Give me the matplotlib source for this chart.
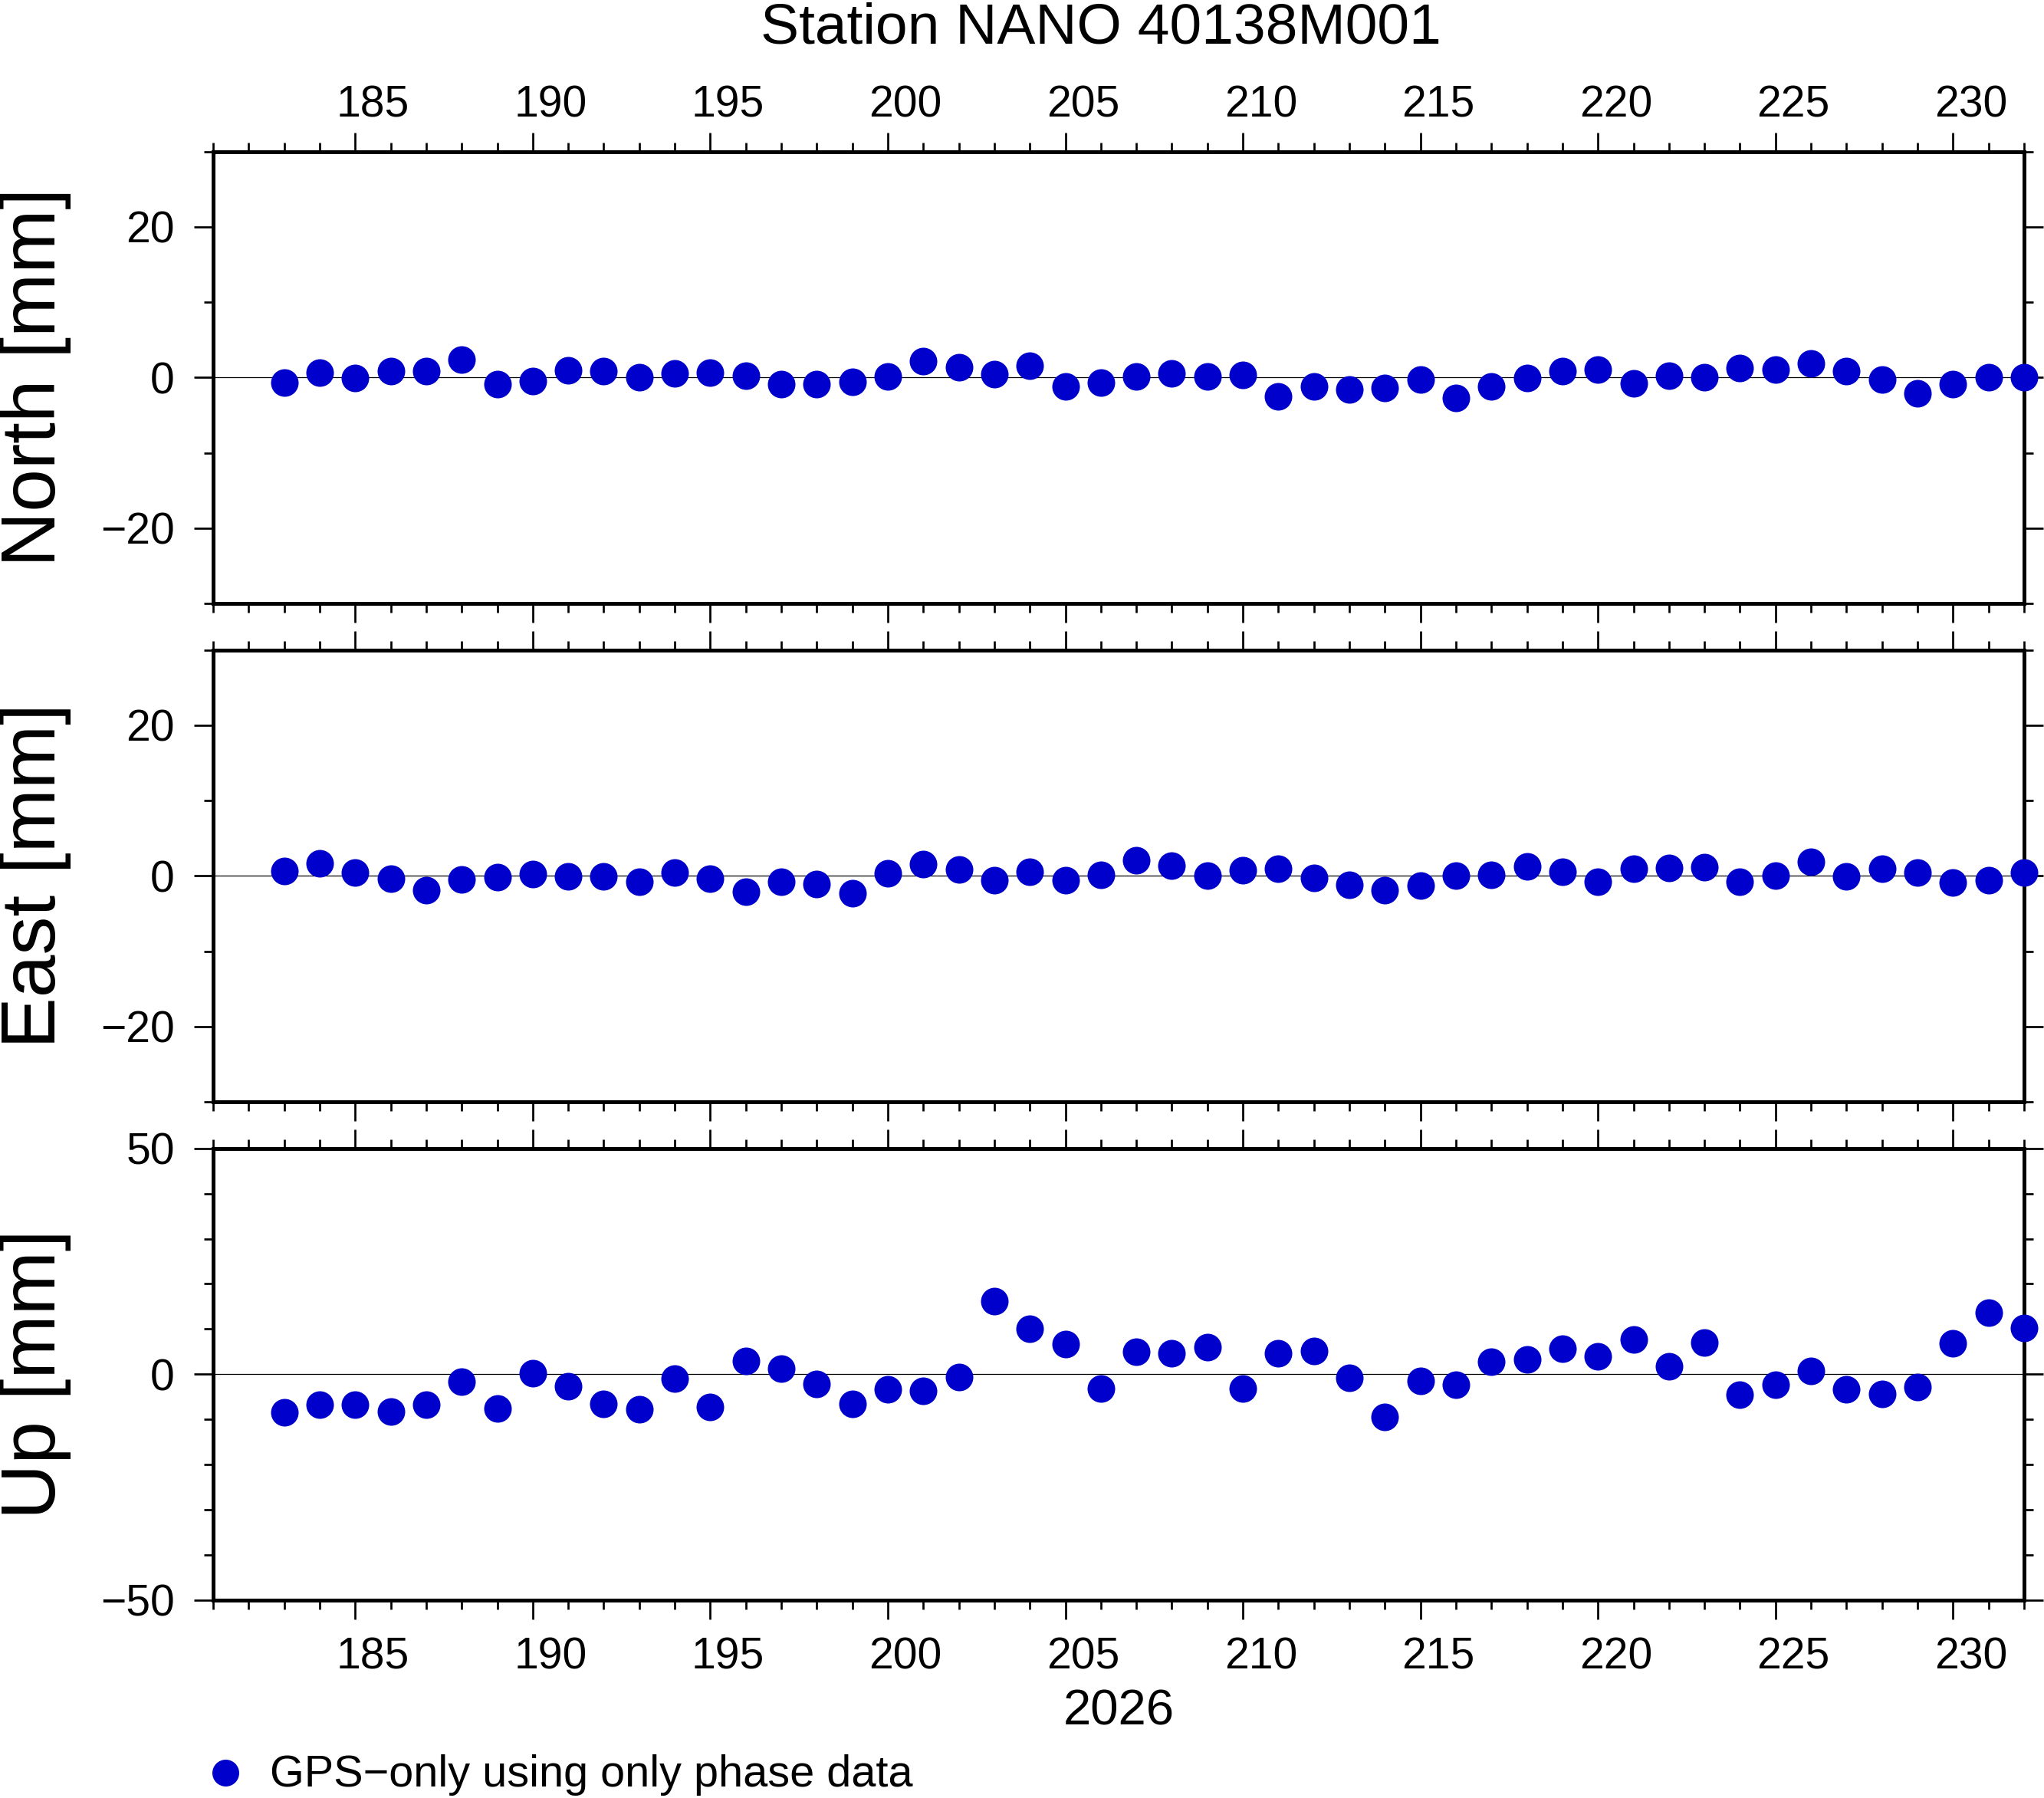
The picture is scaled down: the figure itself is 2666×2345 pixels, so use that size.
import matplotlib
matplotlib.use("Agg")
import matplotlib.pyplot as plt
from matplotlib.lines import Line2D
from matplotlib.ticker import MultipleLocator, NullLocator

plt.rcParams['font.family'] = ['Liberation Sans', 'DejaVu Sans']

# ---------------- data ----------------
days = list(range(183, 233))
north = [-0.7, 0.6, -0.1, 0.9, 0.9, 2.4, -0.9, -0.5, 1.0, 0.9, 0.0, 0.5, 0.6, 0.2,
         -0.9, -0.9, -0.6, 0.1, 2.2, 1.4, 0.4, 1.6, -1.2, -0.7,
         0.1, 0.5, 0.1, 0.3, -2.5, -1.2, -1.6, -1.4, -0.3, -2.7, -1.2, -0.1, 0.8,
         1.1, -0.8, 0.2, 0.0, 1.3, 1.1, 1.9, 0.8, -0.3, -2.1, -0.9, 0.0, 0.0]
east = [0.6, 1.7, 0.4, -0.4, -1.9, -0.5, -0.2, 0.2, -0.1, -0.1, -0.8, 0.4, -0.4,
        -2.1, -0.8, -1.1, -2.3, 0.3, 1.6, 0.9, -0.6, 0.5, -0.6, 0.1,
        2.1, 1.4, 0.0, 0.7, 1.0, -0.3, -1.2, -1.9, -1.3, 0.0, 0.1, 1.3, 0.5,
        -0.8, 1.0, 1.1, 1.2, -0.8, 0.0, 1.9, -0.1, 1.0, 0.4, -0.9, -0.6, 0.4]
up = [-8.5, -6.8, -6.8, -8.3, -6.8, -1.7, -7.5, 0.3, -2.7, -6.5, -7.8, -1.0, -7.3,
      2.9, 1.3, -2.1, -6.5, -3.3, -3.6, -0.7, 16.2, 10.0, 6.6,
      -3.1, 4.9, 4.7, 6.0, -3.1, 4.7, 5.1, -0.8, -9.4, -1.4, -2.3, 2.7, 3.3, 5.6,
      4.0, 7.7, 1.8, 7.0, -4.6, -2.4, 0.7, -3.3, -4.3, -2.9, 6.8, 13.6, 10.3]

components = ["North [mm]", "East [mm]", "Up [mm]"]
series = [north, east, up]
ylims = [(-30, 30), (-30, 30), (-50, 50)]
ymajor = [20, 20, 50]
yminor = [10, 10, 10]
xlim = (181, 232)
day_labels = [185, 190, 195, 200, 205, 210, 215, 220, 225, 230]
title = "Station NANO 40138M001"
year_label = "2026"
legend_label = "GPS\u2212only using only phase data"
dot_color = "#0000cc"

# ---------------- layout ----------------
W, H = 2666, 2345
fig = plt.figure(figsize=(W / 100, H / 100), dpi=100)

left = 278 / W
width = (2640 - 278) / W
tops = [197.7, 847.7, 1497.7]
ph = 589.3

px = 0.72  # points per pixel at dpi 100
for i, (lab, vals, yl, ymj, ymn) in enumerate(zip(components, series, ylims, ymajor, yminor)):
    top = tops[i]
    ax = fig.add_axes([left, 1 - (top + ph) / H, width, ph / H])
    ax.set_xlim(*xlim)
    ax.set_ylim(*yl)
    ax.axhline(0, color='black', lw=0.9, zorder=1)
    ax.plot(days, vals, 'o', color=dot_color, markersize=36 * px,
            markeredgewidth=0, clip_on=False, zorder=5)
    for s in ax.spines.values():
        s.set_linewidth(5 * px)
        s.set_zorder(3)
    ax.xaxis.set_major_locator(MultipleLocator(5))
    ax.xaxis.set_minor_locator(MultipleLocator(1))
    ax.yaxis.set_major_locator(MultipleLocator(ymj))
    ax.yaxis.set_minor_locator(MultipleLocator(ymn))
    ax.tick_params(which='both', direction='out', top=True, bottom=True,
                   left=True, right=True, width=2.7 * px, color='black')
    ax.tick_params(which='major', length=25 * px)
    ax.tick_params(which='minor', length=12 * px)
    ax.tick_params(axis='y', labelsize=41, pad=18, labelright=False)
    ax.tick_params(axis='x', labeltop=False, labelbottom=False)

    # day-of-year annotations are centred on the day interval (GMT style)
    if i in (0, 2):
        side = 'top' if i == 0 else 'bottom'
        sec = ax.secondary_xaxis(side)
        sec.set_xticks([d + 0.5 for d in day_labels],
                       labels=[str(d) for d in day_labels])
        sec.xaxis.set_minor_locator(NullLocator())
        sec.tick_params(axis='x', length=0, labelsize=41,
                        pad=24 if i == 0 else 34)
        for s in sec.spines.values():
            s.set_visible(False)

    fig.text(72 / W, 1 - (top + ph / 2) / H, lab, rotation=90,
             rotation_mode='anchor', ha='center', va='baseline', fontsize=72)

fig.text(1436 / W, 1 - 56.7 / H, title, ha='center', va='baseline', fontsize=54)
fig.text(1459 / W, 1 - 2250 / H, year_label, ha='center', va='baseline', fontsize=47)

fig.add_artist(Line2D([294 / W], [1 - 2312 / H], transform=fig.transFigure,
                      marker='o', color=dot_color, markersize=35 * px,
                      markeredgewidth=0, linestyle='none'))
fig.text(352 / W, 1 - 2330 / H, legend_label, ha='left', va='baseline', fontsize=41.5)

fig.savefig("out.png", dpi=100, facecolor='white')
